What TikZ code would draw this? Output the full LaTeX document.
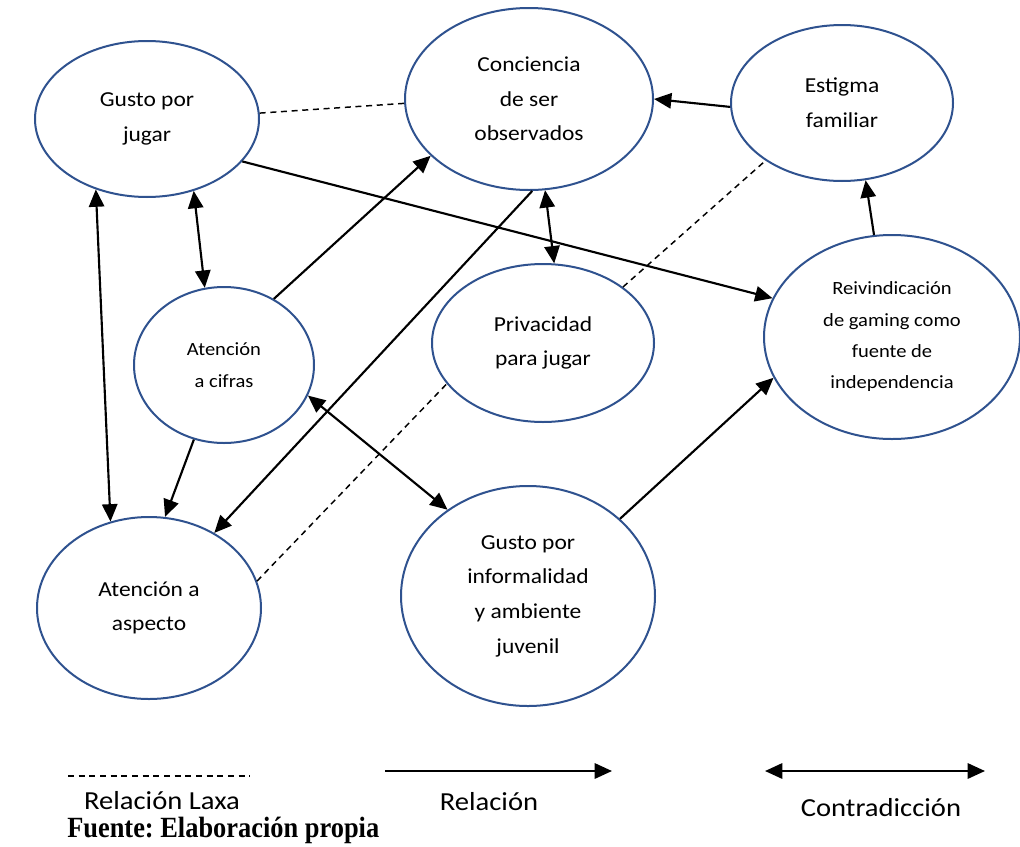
\documentclass[tikz,border=0pt]{standalone}
\usepackage{fontspec}
\setmainfont{Carlito}[FakeStretch=1.1]
\newfontfamily\fuentefont{Liberation Serif}[FakeStretch=0.9]
\usetikzlibrary{shapes.geometric,arrows.meta}
\definecolor{elblue}{HTML}{2F528F}
\frenchspacing
\begin{document}
\begin{tikzpicture}[x=0.75pt,y=-0.75pt,
  bub/.style 2 args={ellipse, draw=elblue, line width=1.5pt, fill=white, inner sep=0pt,
    align=center, minimum width=#1*1.5pt, minimum height=#2*1.5pt,
    font=\fontsize{16}{26}\selectfont},
  smalltext/.style={font=\fontsize{14}{23.5}\selectfont},
  rel/.style={-{Triangle[length=13pt,width=11.5pt]}, line width=1.6pt},
  con/.style={{Triangle[length=13pt,width=11.5pt]}-{Triangle[length=13pt,width=11.5pt]}, line width=1.6pt},
  lax/.style={dash pattern=on 4.5pt off 3.5pt, line width=1.1pt},
  legtext/.style={font=\fontsize{19.5}{24}\selectfont, inner sep=0pt}]
\useasboundingbox (0,0) rectangle (1020,846);

% nodes
\node[bub={112}{78}] (J) at (147,119) {Gusto por\\jugar};
\node[bub={124}{91}] (C) at (529,99) {Conciencia\\de ser\\observados};
\node[bub={111}{78}] (E) at (842,103) {Estigma\\familiar};
\node[bub={128}{102}, smalltext] (R) at (892,337) {Reivindicación\\de gaming como\\fuente de\\independencia};
\node[bub={90}{78}, smalltext] (A) at (224,365) {Atención\\a cifras};
\node[bub={111}{79}] (P) at (543,343) {Privacidad\\para jugar};
\node[bub={112}{91}] (S) at (149,608) {Atención a\\aspecto};
\node[bub={127}{110}] (I) at (528,596) {Gusto por\\informalidad\\y ambiente\\juvenil};

% connectors
\draw[lax] (J.3) -- (C.182);
\draw[rel] (J.336.5) -- (R.162.8);
\draw[con] (J.234) -- (S.114.5);
\draw[con] (J.303.5) -- (A.104.4);
\draw[rel] (A.53.7) -- (C.210.6);
\draw[rel] (A.248.6) -- (S.80.7);
\draw[rel] (C.272) -- (S.49.9);
\draw[con] (C.280.2) -- (P.82);
\draw[con] (A.340.5) -- (I.133.9);
\draw[lax] (S.14.2) -- (P.203.7);
\draw[lax] (P.35.3) -- (E.217.7);
\draw[rel] (E.182.6) -- (C.0.5);
\draw[rel] (R.100) -- (E.287.6);
\draw[rel] (I.40.3) -- (R.199.4);

% legend
\coordinate (la1) at (68,776);
\coordinate (la2) at (250,776);
\coordinate (lb1) at (385,771);
\coordinate (lb2) at (612,771);
\coordinate (lc1) at (765,771);
\coordinate (lc2) at (985,771);
\draw[lax] (la1) -- (la2);
\draw[rel] (lb1) -- (lb2);
\draw[con] (lc1) -- (lc2);
\node[legtext] (t1) at (162,801) {Relación Laxa};
\node[legtext] (t2) at (489,802) {Relación};
\node[legtext] (t3) at (881,808) {Contradicción};
\node[anchor=west, inner sep=0pt, font=\fuentefont\bfseries\fontsize{22}{26}\selectfont] (src) at (67,830) {Fuente: Elaboración propia};
\end{tikzpicture}
\end{document}
